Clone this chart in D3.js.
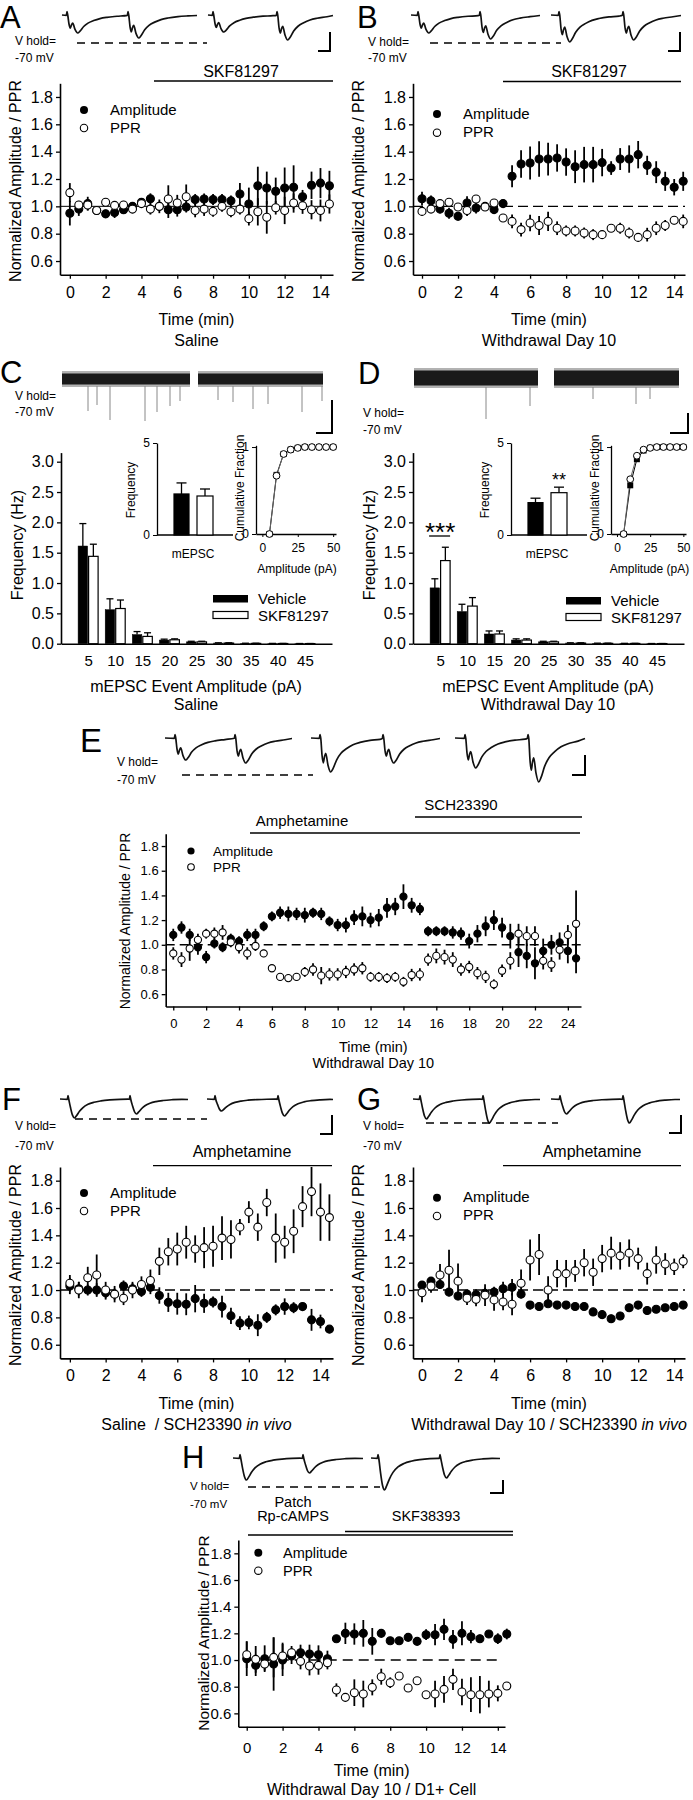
<!DOCTYPE html>
<html><head><meta charset="utf-8">
<script src="https://cdn.jsdelivr.net/npm/d3@7"></script>
<style>body{margin:0;background:#fff}svg{display:block}text{white-space:pre}</style>
</head><body><svg id="fig" width="693" height="1800"></svg>
<script>
// ---------------- DATA ----------------
const time15 = [0,0.5,1,1.5,2,2.5,3,3.5,4,4.5,5,5.5,6,6.5,7,7.5,8,8.5,9,9.5,10,10.5,11,11.5,12,12.5,13,13.5,14,14.5];
const time25 = [0,0.5,1,1.5,2,2.5,3,3.5,4,4.5,5,5.5,6,6.5,7,7.5,8,8.5,9,9.5,10,10.5,11,11.5,12,12.5,13,13.5,14,14.5,15,15.5,16,16.5,17,17.5,18,18.5,19,19.5,20,20.5,21,21.5,22,22.5,23,23.5,24,24.5];
const yTickVals = [0.6,0.8,1.0,1.2,1.4,1.6,1.8];
const xTicks15 = [0,2,4,6,8,10,12,14];
const xTicks25 = [0,2,4,6,8,10,12,14,16,18,20,22,24];

const aAmp = [0.95,0.98,1.02,0.97,0.945,0.955,0.975,1.0,1.03,1.055,1.0,0.975,0.975,0.995,1.05,1.054,1.05,1.05,1.04,1.09,1.017,1.15,1.134,1.11,1.134,1.14,1.07,1.154,1.17,1.15];
const aAmpErr = [0.09,0.05,0.05,0.03,0.03,0.04,0.03,0.02,0.03,0.04,0.05,0.06,0.05,0.04,0.04,0.04,0.04,0.04,0.04,0.08,0.12,0.14,0.12,0.1,0.15,0.16,0.05,0.1,0.11,0.11];
const aPpr = [1.1,1.01,1.01,0.97,1.03,1.007,1.01,0.98,1.02,0.98,1.0,1.054,1.024,1.07,0.97,0.98,0.963,1.0,0.96,0.98,0.91,0.96,0.92,0.99,0.97,1.024,1.005,0.975,0.97,1.017];
const aPprErr = [0.07,0.03,0.04,0.03,0.03,0.03,0.03,0.03,0.03,0.04,0.03,0.1,0.06,0.09,0.05,0.05,0.04,0.04,0.04,0.04,0.05,0.1,0.12,0.05,0.1,0.07,0.06,0.07,0.08,0.07];

const bAmp = [1.056,1.04,0.98,0.95,0.927,1.024,0.988,1.0,0.976,1.02,1.22,1.31,1.317,1.346,1.346,1.354,1.324,1.29,1.305,1.305,1.32,1.28,1.346,1.346,1.378,1.3,1.25,1.183,1.14,1.183];
const bAmpErr = [0.05,0.04,0.03,0.04,0.03,0.05,0.04,0.03,0.03,0.03,0.08,0.1,0.12,0.13,0.12,0.1,0.1,0.12,0.13,0.13,0.1,0.05,0.08,0.1,0.1,0.07,0.08,0.07,0.06,0.07];
const bPpr = [0.963,0.98,1.02,1.03,0.995,0.97,1.054,0.995,1.024,0.915,0.89,0.83,0.878,0.86,0.89,0.84,0.82,0.82,0.805,0.793,0.793,0.84,0.84,0.805,0.773,0.793,0.84,0.86,0.898,0.89];
const bPprErr = [0.03,0.02,0.02,0.02,0.02,0.04,0.02,0.02,0.02,0.02,0.05,0.05,0.06,0.07,0.07,0.05,0.04,0.04,0.04,0.04,0.03,0.02,0.04,0.04,0.03,0.05,0.05,0.04,0.03,0.05];

const eAmp = [1.08,1.14,1.08,0.98,0.9,1.01,0.98,1.05,1.03,1.08, 1.08,1.15,1.23,1.26,1.25,1.25,1.24,1.26,1.25,1.19, 1.16,1.16,1.22,1.23,1.2,1.22,1.3,1.31,1.39,1.32, 1.29,1.11,1.11,1.11,1.1,1.09,1.03,1.09,1.15,1.2, 1.14,1.07,0.94,0.91,0.85,0.95,1.0,1.02,0.95,0.89];
const eAmpErr = [0.05,0.05,0.05,0.06,0.05,0.04,0.04,0.04,0.04,0.05, 0.05,0.04,0.04,0.05,0.06,0.05,0.06,0.04,0.05,0.04, 0.05,0.06,0.06,0.08,0.06,0.07,0.08,0.07,0.1,0.06, 0.05,0.04,0.04,0.04,0.05,0.05,0.06,0.07,0.08,0.08, 0.08,0.1,0.12,0.1,0.13,0.1,0.08,0.08,0.1,0.12];
const ePpr = [0.93,0.88,0.97,1.04,1.09,1.09,1.1,1.02,0.98,0.93, 0.99,0.93,0.81,0.74,0.73,0.74,0.78,0.8,0.75,0.76, 0.76,0.78,0.8,0.81,0.74,0.74,0.73,0.74,0.7,0.755, 0.76,0.88,0.91,0.9,0.88,0.8,0.82,0.77,0.74,0.68, 0.79,0.87,1.09,1.07,1.07,0.87,0.84,0.96,1.08,1.17];
const ePprErr = [0.05,0.06,0.1,0.05,0.04,0.05,0.06,0.04,0.05,0.05, 0.04,0.03,0.02,0.03,0.03,0.03,0.04,0.05,0.07,0.05, 0.05,0.05,0.05,0.05,0.04,0.04,0.04,0.04,0.04,0.05, 0.05,0.05,0.06,0.06,0.06,0.05,0.05,0.05,0.05,0.04, 0.05,0.07,0.08,0.08,0.08,0.07,0.06,0.08,0.08,0.27];

const fAmp = [1.03,1.01,1.0,1.0,0.98,0.97,1.03,1.01,0.99,1.02,0.96,0.91,0.9,0.896,0.937,0.903,0.913,0.879,0.811,0.758,0.763,0.743,0.8,0.855,0.879,0.871,0.879,0.782,0.77,0.714];
const fAmpErr = [0.06,0.05,0.04,0.05,0.05,0.04,0.04,0.04,0.04,0.05,0.06,0.07,0.08,0.08,0.1,0.07,0.04,0.08,0.06,0.05,0.05,0.08,0.04,0.04,0.06,0.04,0.02,0.08,0.05,0.02];
const fPpr = [1.05,1.0,1.09,1.11,1.0,0.97,0.94,1.0,1.04,1.07,1.21,1.28,1.3,1.35,1.3,1.31,1.32,1.38,1.37,1.46,1.57,1.46,1.64,1.38,1.35,1.43,1.61,1.72,1.57,1.53];
const fPprErr = [0.06,0.06,0.08,0.15,0.06,0.06,0.05,0.06,0.06,0.08,0.1,0.1,0.12,0.12,0.1,0.15,0.15,0.16,0.14,0.06,0.08,0.1,0.1,0.18,0.12,0.16,0.15,0.18,0.21,0.17];

const gAmp = [1.036,1.065,1.04,0.985,0.956,0.97,0.965,0.977,0.985,1.01,1.02,0.97,0.89,0.88,0.9,0.89,0.89,0.88,0.88,0.84,0.82,0.79,0.81,0.87,0.89,0.85,0.86,0.87,0.88,0.89];
const gAmpErr = [0.03,0.03,0.03,0.03,0.03,0.03,0.04,0.04,0.04,0.05,0.06,0.03,0.03,0.03,0.02,0.02,0.02,0.02,0.02,0.03,0.03,0.03,0.03,0.03,0.03,0.03,0.02,0.02,0.02,0.02];
const gPpr = [0.98,1.03,1.11,1.145,1.065,0.94,0.932,0.963,0.928,0.913,0.896,1.05,1.22,1.26,1.0,1.12,1.12,1.14,1.2,1.13,1.23,1.27,1.25,1.27,1.23,1.12,1.22,1.19,1.17,1.21];
const gPprErr = [0.07,0.05,0.08,0.15,0.13,0.05,0.05,0.08,0.08,0.06,0.08,0.1,0.15,0.15,0.1,0.1,0.1,0.08,0.1,0.1,0.1,0.12,0.1,0.1,0.08,0.08,0.1,0.08,0.06,0.05];

const hAmp = [1.01,0.96,1.01,0.97,1.0,1.03,1.055,1.045,1.04,1.01,1.16,1.2,1.195,1.2,1.14,1.2,1.145,1.145,1.17,1.14,1.19,1.19,1.23,1.155,1.2,1.175,1.16,1.195,1.16,1.195];
const hAmpErr = [0.13,0.08,0.1,0.2,0.12,0.06,0.06,0.07,0.07,0.06,0.02,0.08,0.08,0.1,0.1,0.02,0.02,0.02,0.02,0.02,0.04,0.08,0.08,0.07,0.09,0.05,0.03,0.02,0.04,0.04];
const hPpr = [1.04,1.005,0.97,1.02,1.03,1.055,0.99,0.955,0.96,0.98,0.775,0.72,0.755,0.745,0.795,0.875,0.83,0.88,0.79,0.845,0.74,0.745,0.78,0.855,0.76,0.74,0.74,0.745,0.75,0.805];
const hPprErr = [0.1,0.1,0.05,0.15,0.1,0.05,0.06,0.07,0.07,0.05,0.05,0.03,0.1,0.1,0.06,0.06,0.04,0.02,0.02,0.02,0.02,0.1,0.1,0.08,0.1,0.13,0.14,0.1,0.06,0.02];

// mEPSC histograms
const ampBins = [5,10,15,20,25,30,35,40,45];
const freqTicks = [0,0.5,1.0,1.5,2.0,2.5,3.0];
const cVeh = [1.61,0.56,0.15,0.06,0.03,0.01,0.005,0.003,0.002];
const cVehErr = [0.37,0.18,0.05,0.015,0.01,0.005,0.003,0.002,0.001];
const cSkf = [1.44,0.58,0.12,0.065,0.03,0.01,0.005,0.003,0.002];
const cSkfErr = [0.2,0.14,0.06,0.015,0.01,0.005,0.003,0.002,0.001];
const dVeh = [0.92,0.53,0.16,0.06,0.03,0.01,0.006,0.004,0.002];
const dVehErr = [0.15,0.12,0.05,0.02,0.01,0.005,0.003,0.002,0.001];
const dSkf = [1.37,0.62,0.16,0.06,0.03,0.01,0.006,0.004,0.002];
const dSkfErr = [0.22,0.14,0.05,0.02,0.01,0.005,0.003,0.002,0.001];
// mEPSC frequency insets [Vehicle, SKF81297]
const cMeanFreq = [2.23,2.12], cMeanErr = [0.6,0.38];
const dMeanFreq = [1.76,2.3], dMeanErr = [0.24,0.3];
// cumulative fraction insets
const cumAmp = [5,10,15,20,25,30,35,40,45,50];
const cCumVeh = [0,0.68,0.92,0.97,0.99,1,1,1,1,1];
const cCumSkf = [0,0.67,0.92,0.97,0.99,1,1,1,1,1];
const dCumVeh = [0,0.56,0.86,0.96,0.99,1,1,1,1,1];
const dCumSkf = [0,0.63,0.9,0.97,0.99,1,1,1,1,1];
// noise-trace event spikes (x px, depth px)
const cSpikeX = [88,97,110,145,157,170,180,218,233,253,268,302,322];
const cSpikeD = [25,19,34,35,26,20,15,14,16,23,18,26,15];
const dSpikeX = [486,530,593,636,650];
const dSpikeD = [32,19,12,17,12];
// EPSC waveform templates [px after stimulus, fraction of peak]
const doubleShape = [[2,0.5],[3.3,0.73],[4.5,0.55],[5.7,0.45],[8,0.8],[10.7,1.0],[13,0.9],[16.7,0.64],[21,0.45],[26.7,0.31],[33,0.2],[40,0.13],[50,0.07],[60,0.04]];
const singleShape = [[2.5,0.45],[4.5,0.85],[6.5,1.0],[8.5,0.88],[11.5,0.65],[15,0.45],[20,0.28],[26,0.17],[33,0.1],[42,0.05],[52,0.02],[60,0.01]];
// EPSC peak amplitudes (px) per sweep
const trA = [[18,23],[17,25]], trB = [[18,24],[27,25]], trE = [[22,25],[34,25],[30,44]];
const trF = [[19,15],[12,17]], trG = [[20,24],[15,24]], trH = [[22,15],[32,20]];

// ---------------- DRAWING ----------------
const FONT = "'Liberation Sans', Arial, Helvetica, sans-serif";
const svg = d3.select("#fig");
svg.append("rect").attr("width",693).attr("height",1800).attr("fill","#fff");

function txt(x,y,s,fs,anchor){
  return svg.append("text").attr("x",x).attr("y",y).attr("font-family",FONT).attr("font-size",fs)
    .attr("text-anchor",anchor||"start").attr("fill","#000").text(s);
}
function vtxt(cx,cy,s,fs){
  return svg.append("text").attr("transform",`translate(${cx},${cy}) rotate(-90)`).attr("dy","0.35em")
    .attr("font-family",FONT).attr("font-size",fs).attr("text-anchor","middle").attr("fill","#000").text(s);
}
function hline(x1,x2,y,w,dash){
  svg.append("line").attr("x1",x1).attr("x2",x2).attr("y1",y).attr("y2",y).attr("stroke","#000")
    .attr("stroke-width",w||1.3).attr("stroke-dasharray",dash||null);
}
function scaleBar(x,y1,y2,len){
  svg.append("path").attr("d",`M${x},${y1}V${y2}H${x-len}`).attr("fill","none").attr("stroke","#000").attr("stroke-width",2);
}
const lineGen = d3.line().curve(d3.curveMonotoneX);
function sweep(xs,xe,arts,amps,shape,base){
  const pts=[[xs,base]];
  arts.forEach((a,i)=>{
    const lim = i<arts.length-1 ? arts[i+1]-1.5 : xe;
    pts.push([a-0.6,base+0.3],[a,base-3.5],[a+0.8,base+0.5]);
    shape.forEach(([dx,f])=>{ if(a+dx<lim) pts.push([a+dx, base+f*amps[i]]); });
  });
  pts.push([xe,base+0.5]);
  svg.append("path").attr("d",lineGen(pts)).attr("fill","none").attr("stroke","#111").attr("stroke-width",1.7);
}
function traces(cfg){
  cfg.sweeps.forEach((s,i)=>sweep(s[0],s[1],s[2],cfg.amps[i],cfg.shape,cfg.base));
  hline(cfg.dash[0],cfg.dash[1],cfg.dash[2],1.6,"8,6");
  scaleBar(cfg.bar[0],cfg.bar[1],cfg.bar[2],cfg.bar[3]);
}
function vhold(x,b1,b2,fs){ txt(x,b1,"V hold=",fs||12); txt(x,b2,"-70 mV",fs||12); }
function letter(x,b,s,fs){ txt(x,b,s,fs||31); }

function timePanel(p){
  const g = svg.append("g");
  const x = d3.scaleLinear().domain(p.xDom).range([p.x0,p.x1]);
  const y = d3.scaleLinear().domain([0.5,1.9]).range([p.yBot,p.yTop]);
  const r1 = p.refFrom!=null ? x(p.refFrom) : p.x0, r2 = p.refTo!=null ? x(p.refTo) : p.x1;
  g.append("line").attr("x1",r1).attr("x2",r2).attr("y1",y(1)).attr("y2",y(1)).attr("stroke","#000")
    .attr("stroke-width",p.refDash?1.4:1).attr("stroke-dasharray",p.refDash||null);
  const ay = g.append("g").attr("transform",`translate(${p.x0},0)`)
    .call(d3.axisLeft(y).tickValues(yTickVals).tickFormat(d3.format(".1f")).tickSizeInner(4).tickSizeOuter(0).tickPadding(3));
  const ax = g.append("g").attr("transform",`translate(0,${p.yBot})`)
    .call(d3.axisBottom(x).tickValues(p.xTicks).tickFormat(d3.format("d")).tickSizeInner(4).tickSizeOuter(0).tickPadding(p.xPad));
  [ay,ax].forEach(a=>{ a.attr("font-family",FONT).attr("font-size",p.fs);
    a.select(".domain").attr("stroke-width",1.6); a.selectAll(".tick line").attr("stroke-width",1.3);
    a.selectAll("text").attr("fill","#000"); });
  [[p.amp,p.ampErr,"#000"],[p.ppr,p.pprErr,"#fff"]].forEach(([v,e,f])=>{
    g.append("g").selectAll("line").data(p.t).join("line")
      .attr("x1",d=>x(d)).attr("x2",d=>x(d))
      .attr("y1",(d,i)=>y(v[i]-e[i])).attr("y2",(d,i)=>y(v[i]+e[i]))
      .attr("stroke","#000").attr("stroke-width",1.8);
    g.append("g").selectAll("circle").data(p.t).join("circle")
      .attr("cx",d=>x(d)).attr("cy",(d,i)=>y(v[i])).attr("r",p.r)
      .attr("fill",f).attr("stroke","#000").attr("stroke-width",1.1);
  });
  // legend
  g.append("circle").attr("cx",p.lx).attr("cy",p.ly[0]).attr("r",p.r).attr("fill","#000");
  g.append("circle").attr("cx",p.lx).attr("cy",p.ly[1]).attr("r",p.r-0.3).attr("fill","#fff").attr("stroke","#000").attr("stroke-width",1.1);
  txt(p.ltx,p.lb[0],"Amplitude",p.lfs); txt(p.ltx,p.lb[1],"PPR",p.lfs);
  vtxt(p.yl[0],p.yl[1],"Normalized Amplitude / PPR",p.ylfs);
  const cx = (p.x0+p.x1)/2;
  txt(cx,p.xlb[0],"Time (min)",p.xlfs,"middle");
  const t2 = txt(cx,p.xlb[1],"",p.xlfs,"middle");
  t2.append("tspan").text(p.sub[0]);
  if(p.sub[1]) t2.append("tspan").attr("font-style","italic").text(p.sub[1]);
}

function noise(bands,y1,y2,sx,sd){
  bands.forEach(([a,b])=>{
    svg.append("rect").attr("x",a).attr("y",y1-1).attr("width",b-a).attr("height",y2-y1+2).attr("fill","#666").attr("opacity",0.5);
    svg.append("rect").attr("x",a).attr("y",y1+1.5).attr("width",b-a).attr("height",y2-y1-3).attr("fill","#1a1a1a");
  });
  svg.append("g").selectAll("line").data(sx).join("line")
    .attr("x1",d=>d).attr("x2",d=>d).attr("y1",y2).attr("y2",(d,i)=>y2+sd[i])
    .attr("stroke","#888").attr("stroke-width",1);
}

function barPanel(p){
  const x = d3.scaleLinear().domain([0,50]).range([p.x0,p.x0+271]);
  const y = d3.scaleLinear().domain([0,3.15]).range([643.7,452.6]);
  const ay = svg.append("g").attr("transform",`translate(${p.x0},0)`)
    .call(d3.axisLeft(y).tickValues(freqTicks).tickFormat(d3.format(".1f")).tickSizeInner(4).tickSizeOuter(0).tickPadding(3));
  const ax = svg.append("g").attr("transform","translate(0,643.7)")
    .call(d3.axisBottom(x).tickValues(ampBins).tickFormat(d3.format("d")).tickSizeInner(0).tickSizeOuter(0).tickPadding(11.5));
  [ay,ax].forEach(a=>{ a.attr("font-family",FONT).attr("font-size",16); a.select(".domain").attr("stroke-width",1.6);
    a.selectAll(".tick line").attr("stroke-width",1.3); a.selectAll("text").attr("fill","#000"); });
  ax.selectAll("text").attr("font-size",15);
  const sets=[[p.veh,p.vehErr,"#000",-10,-0.5],[p.skf,p.skfErr,"#fff",0.5,10]];
  sets.forEach(([v,e,f,o1,o2])=>{
    const g=svg.append("g");
    g.selectAll("line.eb").data(ampBins).join("line").attr("x1",d=>x(d)+(o1+o2)/2).attr("x2",d=>x(d)+(o1+o2)/2)
      .attr("y1",(d,i)=>y(v[i])).attr("y2",(d,i)=>y(v[i]+e[i])).attr("stroke","#000").attr("stroke-width",1.3);
    g.selectAll("line.cap").data(ampBins).join("line").attr("x1",d=>x(d)+(o1+o2)/2-3.5).attr("x2",d=>x(d)+(o1+o2)/2+3.5)
      .attr("y1",(d,i)=>y(v[i]+e[i])).attr("y2",(d,i)=>y(v[i]+e[i])).attr("stroke","#000").attr("stroke-width",1.3);
    g.selectAll("rect").data(ampBins).join("rect").attr("x",d=>x(d)+o1).attr("width",o2-o1)
      .attr("y",(d,i)=>y(v[i])).attr("height",(d,i)=>y(0)-y(v[i]))
      .attr("fill",f).attr("stroke","#000").attr("stroke-width",f==="#fff"?1.2:0.5);
  });
  vtxt(p.x0-44,545,"Frequency (Hz)",16);
  txt(p.x0+135,692,"mEPSC Event Amplitude (pA)",16,"middle");
  txt(p.x0+135,710,p.sub,16,"middle");
  // legend
  svg.append("rect").attr("x",p.lg[0]).attr("y",p.lg[1]).attr("width",35).attr("height",7.5).attr("fill","#000");
  svg.append("rect").attr("x",p.lg[0]).attr("y",p.lg[1]+16.5).attr("width",35).attr("height",7).attr("fill","#fff").attr("stroke","#000").attr("stroke-width",1.2);
  txt(p.lg[0]+45,p.lg[1]+8.5,"Vehicle",15); txt(p.lg[0]+45,p.lg[1]+26,"SKF81297",15);
  return {x,y};
}

function meanInset(ox,vals,errs){
  const y = d3.scaleLinear().domain([0,5]).range([535,443]);
  const ay = svg.append("g").attr("transform",`translate(${ox},0)`)
    .call(d3.axisLeft(y).tickValues([0,5]).tickFormat(d3.format("d")).tickSizeInner(4).tickSizeOuter(0).tickPadding(3));
  ay.attr("font-family",FONT).attr("font-size",12); ay.select(".domain").attr("stroke-width",1.3); ay.selectAll("text").attr("fill","#000");
  hline(ox,ox+76,535,1.3);
  const c = ox+36;
  const pos=[[c-19,c-4,"#000"],[c+4,c+20,"#fff"]];
  pos.forEach(([a,b,f],i)=>{
    const m=(a+b)/2;
    svg.append("line").attr("x1",m).attr("x2",m).attr("y1",y(vals[i])).attr("y2",y(vals[i]+errs[i])).attr("stroke","#000").attr("stroke-width",1.3);
    svg.append("line").attr("x1",m-5).attr("x2",m+5).attr("y1",y(vals[i]+errs[i])).attr("y2",y(vals[i]+errs[i])).attr("stroke","#000").attr("stroke-width",1.3);
    svg.append("rect").attr("x",a).attr("width",b-a).attr("y",y(vals[i])).attr("height",y(0)-y(vals[i])).attr("fill",f).attr("stroke","#000").attr("stroke-width",1.2);
  });
  vtxt(ox-26,490,"Frequency",12);
  txt(c,558,"mEPSC",12,"middle");
  return {y,c};
}

function cumInset(ox,veh,skf,w){
  const x = d3.scaleLinear().domain([-4.5,52]).range([ox,ox+w]);
  const y = d3.scaleLinear().domain([0,1.02]).range([534,445.3]);
  const ay = svg.append("g").attr("transform",`translate(${ox},0)`)
    .call(d3.axisLeft(y).tickValues([0,1]).tickFormat(d3.format("d")).tickSizeInner(4).tickSizeOuter(0).tickPadding(3));
  const ax = svg.append("g").attr("transform","translate(0,534)")
    .call(d3.axisBottom(x).tickValues([0,25,50]).tickFormat(d3.format("d")).tickSizeInner(3).tickSizeOuter(0).tickPadding(6));
  [ay,ax].forEach(a=>{ a.attr("font-family",FONT).attr("font-size",12); a.select(".domain").attr("stroke-width",1.3); a.selectAll("text").attr("fill","#000"); });
  const lg = d3.line().x(d=>x(d[0])).y(d=>y(d[1]));
  svg.append("path").attr("d",lg(cumAmp.map((d,i)=>[d,veh[i]]))).attr("fill","none").attr("stroke","#000").attr("stroke-width",1);
  svg.append("path").attr("d",lg(cumAmp.map((d,i)=>[d,skf[i]]))).attr("fill","none").attr("stroke","#666").attr("stroke-width",1);
  svg.append("g").selectAll("rect").data(cumAmp).join("rect").attr("x",d=>x(d)-3).attr("y",(d,i)=>y(veh[i])-3).attr("width",6).attr("height",6).attr("fill","#000");
  svg.append("g").selectAll("circle").data(cumAmp).join("circle").attr("cx",d=>x(d)).attr("cy",(d,i)=>y(skf[i])).attr("r",3.4)
    .attr("fill","#fff").attr("stroke","#000").attr("stroke-width",1);
  vtxt(ox-16,488,"Cumulative Fraction",12);
  txt(ox+w/2+1,573,"Amplitude (pA)",12,"middle");
}

// ===== Panel A =====
letter(0,28,"A");
traces({base:15,shape:doubleShape,amps:trA,sweeps:[[62,197,[67,128]],[208,333,[213,277]]],dash:[77,207,43],bar:[330,32,51,12]});
vhold(15,45,62);
txt(241,77,"SKF81297",16,"middle"); hline(154,333,81,1.3);
timePanel({t:time15,amp:aAmp,ampErr:aAmpErr,ppr:aPpr,pprErr:aPprErr,x0:60,x1:333,yTop:83.3,yBot:274.7,xDom:[-0.55,14.7],
  xTicks:xTicks15,xPad:7.6,fs:16,r:4,refDash:null,lx:84,ly:[110,128],ltx:110,lb:[115,133],lfs:15,
  yl:[15,181],ylfs:16,xlb:[325,346],xlfs:16,sub:["Saline"]});

// ===== Panel B =====
letter(357,28,"B");
traces({base:15,shape:doubleShape,amps:trB,sweeps:[[411,540,[418,480]],[551,681,[559,623]]],dash:[430,561,43],bar:[680,32,51,12]});
vhold(368,46,62);
txt(589,77,"SKF81297",16,"middle"); hline(503,681,81.5,1.3);
timePanel({t:time15,amp:bAmp,ampErr:bAmpErr,ppr:bPpr,pprErr:bPprErr,x0:413,x1:685,yTop:83.3,yBot:274.7,xDom:[-0.5,14.6],
  xTicks:xTicks15,xPad:7.6,fs:16,r:4,refDash:"10,5",lx:437,ly:[114,132.7],ltx:463,lb:[119,137],lfs:15,
  yl:[358,181],ylfs:16,xlb:[325,346],xlfs:16,sub:["Withdrawal Day 10"]});

// ===== Panel C =====
letter(0,383,"C");
noise([[62,190],[198,323]],372,386,cSpikeX,cSpikeD);
vhold(15,400,416);
scaleBar(332,400,433,16);
barPanel({x0:61,veh:cVeh,vehErr:cVehErr,skf:cSkf,skfErr:cSkfErr,sub:"Saline",lg:[213,595]});
meanInset(157,cMeanFreq,cMeanErr);
cumInset(256,cCumVeh,cCumSkf,80);

// ===== Panel D =====
letter(358,384,"D");
noise([[414,538],[554,679]],369,387,dSpikeX,dSpikeD);
vhold(363,417,434);
scaleBar(688,413,433,18);
const dSc = barPanel({x0:413,veh:dVeh,vehErr:dVehErr,skf:dSkf,skfErr:dSkfErr,sub:"Withdrawal Day 10",lg:[566,597]});
txt(dSc.x(5),541,"***",26,"middle"); hline(dSc.x(5)-11,dSc.x(5)+10,536,1.3);
const dIn = meanInset(511,dMeanFreq,dMeanErr);
txt(dIn.c+12,486,"**",18,"middle");
cumInset(611,dCumVeh,dCumSkf,75);

// ===== Panel E =====
letter(80,752,"E",33);
traces({base:738,shape:doubleShape,amps:trE,sweeps:[[165,292,[175,235]],[311,440,[320,383]],[455,585,[465,528]]],dash:[182,313,775],bar:[585,755,775,13]});
vhold(117,766,784);
txt(461,810,"SCH23390",15,"middle"); hline(415,582,817,1.3);
txt(302,826,"Amphetamine",15,"middle"); hline(250,580,833,1.3);
timePanel({t:time25,amp:eAmp,ampErr:eAmpErr,ppr:ePpr,pprErr:ePprErr,x0:165.7,x1:581,yTop:833.7,yBot:1006.5,xDom:[-0.46,24.8],
  xTicks:xTicks25,xPad:7.8,fs:13,r:3.6,refDash:"9,5",lx:191,ly:[851,867],ltx:213,lb:[855.5,871.5],lfs:13.5,
  yl:[125,921],ylfs:14,xlb:[1052,1068],xlfs:14.5,sub:["Withdrawal Day 10"]});

// ===== Panel F =====
letter(2,1110,"F");
traces({base:1099,shape:singleShape,amps:trF,sweeps:[[60,188,[68,130]],[207,333,[215,278]]],dash:[75,207,1119],bar:[332,1115,1134,12]});
vhold(15,1130,1150);
txt(242,1157,"Amphetamine",16,"middle"); hline(153,332,1165.7,1.3);
timePanel({t:time15,amp:fAmp,ampErr:fAmpErr,ppr:fPpr,pprErr:fPprErr,x0:60,x1:333,yTop:1167,yBot:1358.4,xDom:[-0.55,14.7],
  xTicks:xTicks15,xPad:7.6,fs:16,r:4,refDash:"10,5",lx:84,ly:[1193,1211],ltx:110,lb:[1198,1216],lfs:15,
  yl:[15,1265],ylfs:16,xlb:[1409,1430],xlfs:16,sub:["Saline  / SCH23390 ","in vivo"]});

// ===== Panel G =====
letter(357,1110,"G");
traces({base:1099,shape:singleShape,amps:trG,sweeps:[[413,540,[420,483]],[551,680,[560,623]]],dash:[426,558,1123],bar:[681,1115,1133,12]});
vhold(363,1130,1150);
txt(592,1157,"Amphetamine",16,"middle"); hline(503,681,1165.7,1.3);
timePanel({t:time15,amp:gAmp,ampErr:gAmpErr,ppr:gPpr,pprErr:gPprErr,x0:413,x1:685,yTop:1167,yBot:1358.4,xDom:[-0.5,14.6],
  xTicks:xTicks15,xPad:7.6,fs:16,r:4,refDash:"10,5",lx:437,ly:[1197.7,1216],ltx:463,lb:[1202,1220],lfs:15,
  yl:[358,1265],ylfs:16,xlb:[1409,1430],xlfs:16,sub:["Withdrawal Day 10 / SCH23390 ","in vivo"]});

// ===== Panel H =====
letter(182,1468,"H");
traces({base:1458,shape:singleShape,amps:trH,sweeps:[[233,363,[240,303]],[371,500,[378,440]]],dash:[248,380,1487],bar:[503,1480,1493,13]});
vhold(190,1490,1508,11.5);
txt(293,1507,"Patch",14.5,"middle");
txt(293,1521,"Rp-cAMPS",14.5,"middle");
txt(426,1521,"SKF38393",14.5,"middle");
hline(345,513,1531.5,1.3); hline(248,513,1535,1.3);
timePanel({t:time15,amp:hAmp,ampErr:hAmpErr,ppr:hPpr,pprErr:hPprErr,x0:238.3,x1:505,yTop:1540,yBot:1726.7,xDom:[-0.47,14.4],
  xTicks:xTicks15,xPad:12,fs:15,r:4,refDash:"10,6",refFrom:0,refTo:14.1,lx:258.3,ly:[1552.7,1570.7],ltx:283,lb:[1557.5,1576],lfs:14.5,
  yl:[204,1633],ylfs:15.5,xlb:[1776,1795],xlfs:16,sub:["Withdrawal Day 10 / D1+ Cell"]});
</script></body></html>
